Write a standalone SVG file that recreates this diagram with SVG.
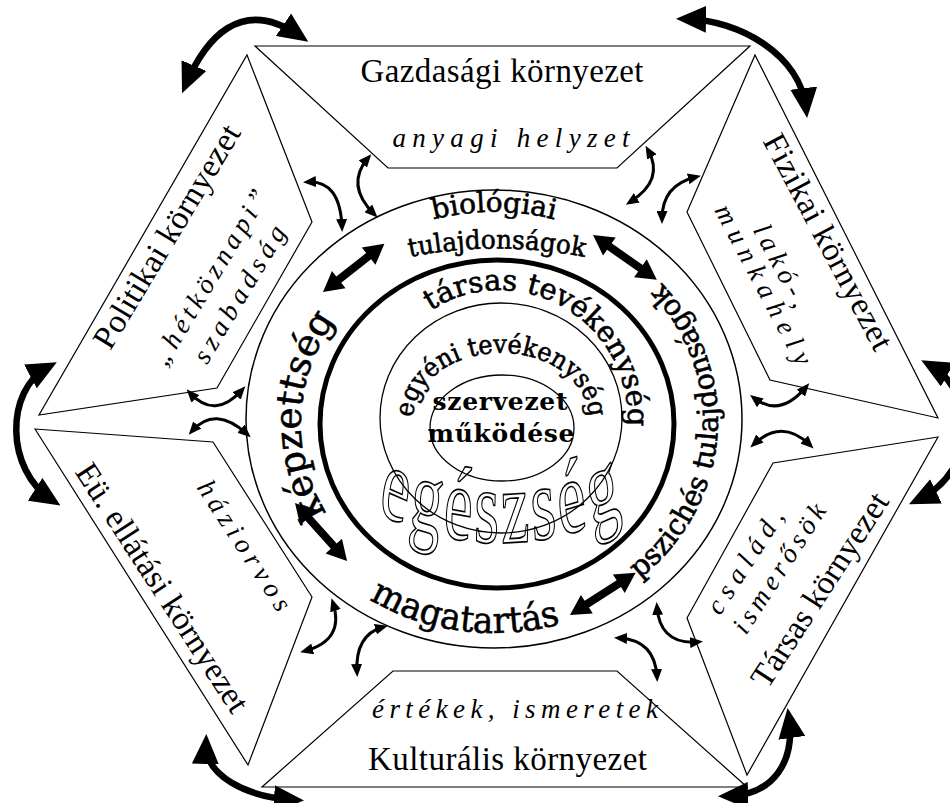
<svg xmlns="http://www.w3.org/2000/svg" width="950" height="803" viewBox="0 0 950 803">
<defs>
<style>
.panel{fill:#fff;stroke:#000;stroke-width:1.2}
.lbl{font-family:"Liberation Serif","Times New Roman",serif;font-size:33px;fill:#000}
.sub{font-family:"Liberation Serif","Times New Roman",serif;font-style:italic;font-size:27px;fill:#000}
.ring{font-family:"DejaVu Serif",serif;fill:#000;stroke:#000;stroke-width:0.6}
.ctr{font-family:"DejaVu Serif",serif;font-weight:bold;font-size:25px;fill:#000}
.thin{fill:none;stroke:#000;stroke-width:1.3}
.sa{fill:none;stroke:#000;stroke-width:3;marker-start:url(#hs);marker-end:url(#hs)}
.ba{fill:none;stroke:#000;stroke-width:6.5;marker-start:url(#hb);marker-end:url(#hb)}
</style>
<marker id="hs" markerUnits="userSpaceOnUse" markerWidth="13" markerHeight="11" refX="8" refY="5.5" orient="auto-start-reverse" viewBox="0 0 13 11"><path d="M0,0 L13,5.5 L0,11 z"/></marker>
<marker id="hb" markerUnits="userSpaceOnUse" markerWidth="30" markerHeight="27" refX="20" refY="13.5" orient="auto-start-reverse" viewBox="0 0 30 27"><path d="M0,0 L30,13.5 L0,27 z"/></marker>
<polygon id="dbl" points="0,0 20,-11 20,-4 58,-4 58,-11 78,0 58,11 58,4 20,4 20,11"/>
<path id="pBio" d="M380,240.1 A228,210 0 0 1 608,240.1"/>
<path id="pTul" d="M400,259 Q496,238 594,259"/>
<path id="pKep" d="M336,527 A194,181 0 0 1 346,307"/>
<path id="pMag" d="M341.8,580.5 A232,214 0 0 0 592,612.9"/>
<path id="pPsz" d="M631.9,584.9 A224,208 0 0 0 655.1,276.5"/>
<path id="pTar" d="M409.5,328.1 A128,130 0 0 1 623.6,453.6"/>
<path id="pEgy" d="M416,436 A88,66 0 1 1 586,436"/>
<path id="pEge" d="M375,310 Q500,348 625,310"/>
</defs>
<rect width="950" height="803" fill="#fff"/>

<g id="panel-gazdasagi">
<polygon class="panel" points="255,46 750,46 617,168 388,168"/>
<text class="lbl" x="502" y="82" text-anchor="middle" textLength="283">Gazdasági környezet</text>
<text class="sub" x="511" y="147" text-anchor="middle" textLength="237">anyagi helyzet</text>
</g>
<g id="panel-politikai">
<polygon class="panel" points="247,55 312,222 217,388 39,415"/>
<text class="lbl" text-anchor="middle" transform="translate(176,242) rotate(-59)" textLength="255">Politikai környezet</text>
<text class="sub" text-anchor="middle" transform="translate(217.3,281.9) rotate(-59)" textLength="200">„hétköznapi”</text>
<text class="sub" text-anchor="middle" transform="translate(246.9,298.7) rotate(-59)" textLength="155">szabadság</text>
</g>
<g id="panel-fizikai">
<polygon class="panel" points="755,55 938,418 770,380 687,212"/>
<text class="lbl" text-anchor="middle" transform="translate(818.7,246.9) rotate(62)" textLength="240">Fizikai környezet</text>
<text class="sub" text-anchor="middle" transform="translate(773.7,269.8) rotate(62)" textLength="90">lakó-,</text>
<text class="sub" text-anchor="middle" transform="translate(755.7,288.8) rotate(62)" textLength="178">munkahely</text>
</g>
<g id="panel-tarsas">
<polygon class="panel" points="938,437 773,463 687,618 747,775"/>
<text class="lbl" text-anchor="middle" transform="translate(828.8,595.7) rotate(-57)" textLength="225">Társas környezet</text>
<text class="sub" text-anchor="middle" transform="translate(752.5,566.3) rotate(-57)" textLength="119">család,</text>
<text class="sub" text-anchor="middle" transform="translate(786.5,573.3) rotate(-57)" textLength="149">ismerősök</text>
</g>
<g id="panel-kulturalis">
<polygon class="panel" points="393,671 617,671 747,787 262,787"/>
<text class="sub" x="515" y="718" text-anchor="middle" textLength="286">értékek, ismeretek</text>
<text class="lbl" x="507.5" y="770" text-anchor="middle" textLength="279">Kulturális környezet</text>
</g>
<g id="panel-eu">
<polygon class="panel" points="35,429 213,442 312,597 248,765"/>
<text class="lbl" text-anchor="middle" transform="translate(153.2,593.7) rotate(57)" textLength="290">Eü. ellátási környezet</text>
<text class="sub" text-anchor="middle" transform="translate(237,550.3) rotate(57)" textLength="150">háziorvos</text>
</g>

<g id="egyen">
<ellipse cx="494" cy="419" rx="248" ry="229" fill="#fff" stroke="#000" stroke-width="1.5"/>
<ellipse cx="497" cy="424" rx="177" ry="164" fill="none" stroke="#000" stroke-width="5"/>
<text class="ring" font-size="28"><textPath href="#pBio" startOffset="50%" text-anchor="middle" textLength="122" lengthAdjust="spacingAndGlyphs">biológiai</textPath></text>
<text class="ring" font-size="26"><textPath href="#pTul" startOffset="50%" text-anchor="middle" textLength="176" lengthAdjust="spacingAndGlyphs">tulajdonságok</textPath></text>
<text class="ring" font-size="37"><textPath href="#pKep" startOffset="50%" text-anchor="middle" textLength="205" lengthAdjust="spacingAndGlyphs">képzettség</textPath></text>
<text class="ring" font-size="36"><textPath href="#pMag" startOffset="50%" text-anchor="middle" textLength="198" lengthAdjust="spacingAndGlyphs">magatartás</textPath></text>
<text class="ring" font-size="29"><textPath href="#pPsz" startOffset="50%" text-anchor="middle" textLength="335" lengthAdjust="spacingAndGlyphs">pszichés tulajdonságok</textPath></text>
</g>

<g id="tarsas-tevekenyseg">
<text class="ring" font-size="29"><textPath href="#pTar" startOffset="50%" text-anchor="middle" textLength="282" lengthAdjust="spacingAndGlyphs">társas tevékenység</textPath></text>
</g>

<g id="egyeni-tevekenyseg">
<g transform="scale(1,1.65)">
<text font-family="Liberation Serif, serif" font-size="64" fill="#fff" stroke="#000" stroke-width="1" vector-effect="non-scaling-stroke"><textPath href="#pEge" startOffset="50%" text-anchor="middle" textLength="248">egészség</textPath></text>
</g>
<ellipse class="thin" cx="501" cy="418" rx="121" ry="115"/>
<text class="ring" font-size="26"><textPath href="#pEgy" startOffset="50%" text-anchor="middle" textLength="240" lengthAdjust="spacingAndGlyphs">egyéni tevékenység</textPath></text>
</g>

<g id="szervezet">
<ellipse class="thin" cx="502" cy="428" rx="72" ry="53"/>
<text class="ctr" x="500" y="410" text-anchor="middle" textLength="135">szervezet</text>
<text class="ctr" x="501" y="442" text-anchor="middle" textLength="147">működése</text>
</g>

<g id="connectors">
<use href="#dbl" transform="translate(323,292) rotate(-38.1)"/>
<use href="#dbl" transform="translate(593,235) rotate(35.1)"/>
<use href="#dbl" transform="translate(295,503) rotate(48.1)"/>
<use href="#dbl" transform="translate(570,615) rotate(-32.7)"/>

<path class="ba" d="M186,84 C205,40 240,-5 300,36"/>
<path class="ba" d="M686,19 C740,20 800,55 806,108"/>
<path class="ba" d="M930,365 C975,390 980,470 918,500"/>
<path class="ba" d="M789,718 C795,760 775,795 728,796"/>
<path class="ba" d="M206,744 C205,775 245,797 294,800"/>
<path class="ba" d="M48,367 C5,390 5,470 52,500"/>

<path class="sa" d="M368,158 Q345,185 374,214"/>
<path class="sa" d="M648,150 Q665,180 630,202"/>
<path class="sa" d="M308,182 Q340,180 342,227"/>
<path class="sa" d="M696,177 Q662,185 662,219"/>
<path class="sa" d="M754,398 Q780,418 806,387"/>
<path class="sa" d="M754,444 Q782,418 810,445"/>
<path class="sa" d="M657,607 Q660,645 698,642"/>
<path class="sa" d="M619,638 Q655,640 657,677"/>
<path class="sa" d="M333,603 Q345,640 305,651"/>
<path class="sa" d="M383,627 Q355,635 357,672"/>
<path class="sa" d="M190,393 Q215,420 242,390"/>
<path class="sa" d="M192,431 Q215,405 247,434"/>
</g>
</svg>
